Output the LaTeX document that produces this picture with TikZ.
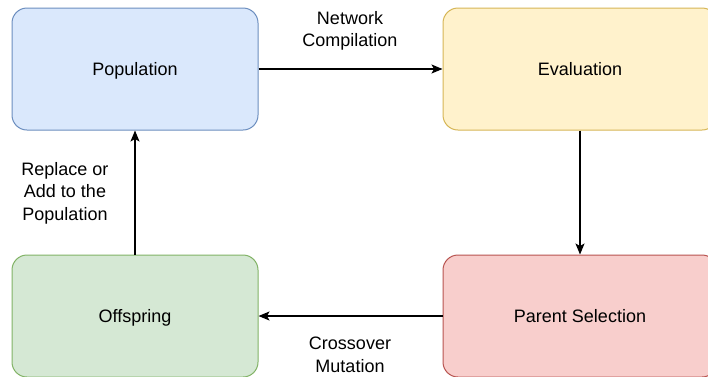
\documentclass[tikz,border=0pt]{standalone}
\usepackage{fontspec}
\setmainfont{Liberation Sans}
\usetikzlibrary{arrows.meta}
\definecolor{bluefill}{HTML}{DAE8FC}\definecolor{bluedraw}{HTML}{6C8EBF}
\definecolor{yelfill}{HTML}{FFF2CC}\definecolor{yeldraw}{HTML}{D6B656}
\definecolor{redfill}{HTML}{F8CECC}\definecolor{reddraw}{HTML}{B85450}
\definecolor{grnfill}{HTML}{D5E8D4}\definecolor{grndraw}{HTML}{82B366}
\tikzset{
  box/.style={rounded corners=15pt, line width=1pt, inner sep=0pt, text height=12.5pt, text depth=0pt, font=\fontsize{18}{22}\selectfont},
  lbl/.style={align=center, inner sep=0pt, font=\fontsize{18}{22.5}\selectfont},
  arr/.style={line width=1.2pt, -{Stealth[length=11pt,width=9pt,inset=2.5pt]}}
}
\begin{document}
\begin{tikzpicture}[x=1pt,y=-1pt]
\useasboundingbox (0,0) rectangle (708,376);
\clip (0,0) rectangle (708,376);
\fill[white] (0,0) rectangle (708,376);
\node[box, draw=bluedraw, fill=bluefill, minimum width=246pt, minimum height=122pt] (pop) at (135,69) {Population};
\node[box, draw=yeldraw, fill=yelfill, minimum width=274pt, minimum height=122pt] (eval) at (580,69) {Evaluation};
\node[box, draw=reddraw, fill=redfill, minimum width=274pt, minimum height=122pt] (par) at (580,316) {Parent Selection};
\node[box, draw=grndraw, fill=grnfill, minimum width=246pt, minimum height=122pt] (off) at (135,316) {Offspring};
\draw[arr] (pop.east) -- (eval.west);
\draw[arr] (eval.south) -- (par.north);
\draw[arr] (par.west) -- (off.east);
\draw[arr] (off.north) -- (pop.south);
\node[lbl] (l1) at (350,31) {Network\\Compilation};
\node[lbl] (l2) at (65,193) {Replace or\\Add to the\\Population};
\node[lbl] (l3) at (350,355) {Crossover\\Mutation};
\end{tikzpicture}
\end{document}
